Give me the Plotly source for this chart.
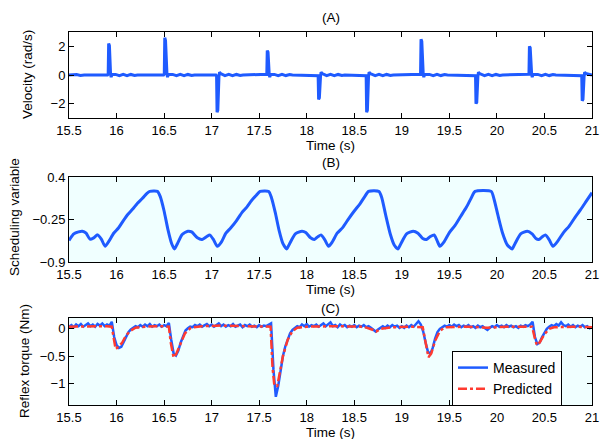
import plotly.graph_objects as go

# ---------------- data ----------------
x_ticks = [15.5, 16, 16.5, 17, 17.5, 18, 18.5, 19, 19.5, 20, 20.5, 21]
x_tick_labels = ["15.5", "16", "16.5", "17", "17.5", "18", "18.5", "19", "19.5", "20", "20.5", "21"]

# (A) velocity
vel_t = [15.50, 15.58, 15.62, 15.66, 15.905, 15.912, 15.917, 15.925, 15.937, 15.943, 15.952, 15.99, 16.03, 16.07, 16.11, 16.15, 16.19, 16.22,
         16.495, 16.502, 16.507, 16.515, 16.530, 16.536, 16.545, 16.59, 16.63, 16.67, 16.71, 16.75, 16.79, 16.82,
         17.045, 17.052, 17.057, 17.065, 17.077, 17.083, 17.095, 17.14, 17.18, 17.22, 17.26, 17.30, 17.33,
         17.573, 17.580, 17.585, 17.593, 17.605, 17.611, 17.620, 17.66, 17.70, 17.74, 17.78, 17.82, 17.85,
         18.113, 18.120, 18.125, 18.133, 18.145, 18.151, 18.163, 18.21, 18.25, 18.29, 18.33, 18.37, 18.40,
         18.618, 18.625, 18.630, 18.638, 18.650, 18.656, 18.668, 18.72, 18.76, 18.80, 18.84, 18.88, 18.91,
         19.190, 19.197, 19.202, 19.210, 19.225, 19.231, 19.240, 19.29, 19.33, 19.37, 19.41, 19.45, 19.48,
         19.768, 19.775, 19.780, 19.788, 19.800, 19.806, 19.818, 19.87, 19.91, 19.95, 19.99, 20.03, 20.06,
         20.330, 20.337, 20.342, 20.350, 20.365, 20.371, 20.380, 20.43, 20.47, 20.51, 20.55, 20.59, 20.62,
         20.885, 20.892, 20.897, 20.905, 20.917, 20.923, 20.935, 20.97, 21.00]
vel_v = [0.0, 0.03, -0.03, 0.0, 0.0, 0.05, 2.2, 2.05, 0.1, -0.15, 0.04, 0.04, -0.04, 0.04, -0.04, 0.04, -0.03, 0.0,
         0.0, 0.05, 2.6, 2.4, 0.1, -0.15, 0.04, 0.04, -0.04, 0.04, -0.04, 0.04, -0.03, 0.0,
         0.0, -0.05, -2.6, -2.45, -0.1, 0.2, 0.1, -0.04, 0.04, -0.04, 0.04, -0.03, 0.0,
         0.0, 0.05, 1.7, 1.6, 0.1, -0.15, 0.04, 0.04, -0.04, 0.04, -0.04, 0.03, 0.0,
         0.0, -0.05, -1.7, -1.6, -0.1, 0.2, 0.1, -0.04, 0.04, -0.04, 0.04, -0.03, 0.0,
         0.0, -0.05, -2.6, -2.45, -0.1, 0.2, 0.1, -0.04, 0.04, -0.04, 0.04, -0.03, 0.0,
         0.0, 0.05, 2.5, 2.35, 0.1, -0.15, 0.04, 0.04, -0.04, 0.04, -0.04, 0.03, 0.0,
         0.0, -0.05, -2.0, -1.9, -0.1, 0.2, 0.1, -0.04, 0.04, -0.04, 0.04, -0.03, 0.0,
         0.0, 0.05, 2.0, 1.9, 0.1, -0.15, 0.04, 0.04, -0.04, 0.04, -0.04, 0.03, 0.0,
         0.0, -0.05, -1.8, -1.7, -0.1, 0.2, 0.1, 0.04, 0.0]

# (B) scheduling variable
sched_t = [15.50, 15.55, 15.60, 15.64, 15.68, 15.72, 15.76, 15.80, 15.84, 15.88, 15.92, 15.97, 16.02, 16.07, 16.12, 16.17, 16.22,
           16.27, 16.32, 16.35, 16.43, 16.46, 16.50, 16.54, 16.58, 16.61, 16.64, 16.69, 16.75, 16.79, 16.85, 16.90, 16.95,
           16.98, 17.02, 17.06, 17.10, 17.15, 17.20, 17.26, 17.32, 17.37, 17.42, 17.47, 17.51, 17.60, 17.63, 17.67, 17.71,
           17.75, 17.79, 17.82, 17.88, 17.95, 17.99, 18.04, 18.08, 18.12, 18.15, 18.19, 18.23, 18.27, 18.32, 18.38, 18.44,
           18.50, 18.56, 18.61, 18.65, 18.76, 18.79, 18.83, 18.88, 18.92, 18.96, 18.99, 19.05, 19.12, 19.17, 19.22, 19.26,
           19.30, 19.34, 19.37, 19.40, 19.44, 19.50, 19.56, 19.62, 19.68, 19.73, 19.77, 19.94, 19.97, 20.01, 20.06, 20.11,
           20.16, 20.19, 20.25, 20.32, 20.37, 20.41, 20.44, 20.48, 20.51, 20.55, 20.59, 20.64, 20.70, 20.76, 20.82, 20.88,
           20.94, 21.00]
sched_v = [-0.57, -0.47, -0.44, -0.43, -0.46, -0.55, -0.53, -0.485, -0.55, -0.66, -0.58, -0.46, -0.38, -0.27, -0.17, -0.09, 0.00,
           0.07, 0.15, 0.18, 0.18, 0.10, -0.12, -0.40, -0.62, -0.70, -0.62, -0.48, -0.43, -0.44, -0.53, -0.555, -0.51,
           -0.485, -0.56, -0.66, -0.60, -0.46, -0.38, -0.27, -0.14, -0.06, 0.04, 0.12, 0.18, 0.18, 0.08, -0.15, -0.42,
           -0.62, -0.70, -0.62, -0.47, -0.43, -0.45, -0.53, -0.555, -0.51, -0.485, -0.56, -0.66, -0.59, -0.46, -0.37, -0.24,
           -0.12, -0.01, 0.10, 0.18, 0.18, 0.08, -0.18, -0.48, -0.64, -0.70, -0.62, -0.47, -0.43, -0.46, -0.54, -0.555,
           -0.51, -0.485, -0.57, -0.66, -0.60, -0.45, -0.34, -0.20, -0.06, 0.08, 0.18, 0.18, 0.06, -0.18, -0.46, -0.64,
           -0.70, -0.62, -0.47, -0.43, -0.47, -0.54, -0.555, -0.51, -0.485, -0.56, -0.66, -0.58, -0.45, -0.35, -0.22, -0.10,
           0.03, 0.16]

# (C) reflex torque, measured (sampled every 0.025 s from 15.5 s)
meas_t0 = 15.5
meas_dt = 0.025
meas_v = [0.04, 0.07, 0.03, 0.08, 0.05, 0.09, 0.04, 0.07, 0.10, 0.05, 0.08, 0.04, 0.09, 0.06, 0.10, 0.05, 0.08, 0.06, 0.13, -0.15,
          -0.30, -0.35, -0.33, -0.24, -0.14, -0.06, -0.01, 0.02, 0.05, 0.03, 0.07, 0.04, 0.08, 0.05, 0.09, 0.04, 0.07, 0.05, 0.08, 0.04,
          0.07, 0.05, 0.11, -0.20, -0.45, -0.49, -0.40, -0.25, -0.12, -0.03, 0.01, 0.04, 0.03, 0.07, 0.05, 0.08, 0.04, 0.07, 0.09, 0.05,
          0.08, 0.04, 0.07, 0.10, 0.05, 0.08, 0.04, 0.07, 0.05, 0.09, 0.04, 0.06, 0.08, 0.03, 0.07, 0.05, 0.08, 0.04, 0.06, 0.03,
          0.07, 0.04, 0.06, 0.05, 0.08, 0.10, -0.75, -1.25, -1.05, -0.75, -0.50, -0.32, -0.18, -0.08, -0.02, 0.02, 0.05, 0.03, 0.08, 0.05,
          0.09, 0.04, 0.07, 0.05, 0.08, 0.04, 0.07, 0.10, 0.05, 0.08, 0.12, 0.05, 0.07, 0.03, 0.08, 0.05, 0.07, 0.03, 0.06, 0.04,
          0.07, 0.03, 0.06, 0.04, 0.07, 0.03, 0.05, 0.02, -0.02, -0.05, -0.01, 0.02, 0.05, 0.02, 0.06, 0.03, 0.07, 0.04, 0.06, 0.02,
          0.05, 0.02, 0.06, 0.03, 0.07, 0.04, 0.10, 0.14, 0.08, -0.05, -0.25, -0.42, -0.46, -0.35, -0.18, -0.06, 0.00, 0.03, 0.06, 0.04,
          0.07, 0.04, 0.08, 0.05, 0.07, 0.03, 0.06, 0.04, 0.07, 0.03, 0.05, 0.02, 0.06, 0.03, 0.05, 0.01, -0.02, 0.02, 0.05, 0.03,
          0.07, 0.04, 0.06, 0.03, 0.07, 0.04, 0.06, 0.03, 0.05, 0.02, 0.06, 0.04, 0.07, 0.05, 0.08, 0.13, -0.15, -0.28, -0.25, -0.15,
          -0.06, 0.00, 0.04, 0.07, 0.05, 0.09, 0.06, 0.12, 0.07, 0.05, 0.08, 0.04, 0.07, 0.03, 0.06, 0.04, 0.07, 0.03, 0.05, 0.01,
          0.03]
meas_t = [meas_t0 + i * meas_dt for i in range(len(meas_v))]

# (C) reflex torque, predicted
pred_t = [15.5, 15.7, 15.9, 15.95, 15.97, 15.99, 16.02, 16.06, 16.1, 16.15, 16.2, 16.3, 16.5, 16.55, 16.57, 16.6, 16.63,
          16.67, 16.72, 16.78, 16.9, 17.1, 17.3, 17.5, 17.62, 17.64, 17.66, 17.69, 17.72, 17.75, 17.8, 17.85, 17.9, 18.0,
          18.3, 18.6, 18.7, 18.73, 18.78, 18.9, 19.1, 19.22, 19.25, 19.28, 19.31, 19.35, 19.4, 19.45, 19.7, 19.9, 20.1,
          20.37, 20.4, 20.42, 20.45, 20.5, 20.55, 20.6, 20.8, 21.0]
pred_v = [0.04, 0.05, 0.05, 0.04, -0.2, -0.37, -0.33, -0.25, -0.12, -0.03, 0.02, 0.04, 0.05, 0.04, -0.25, -0.53, -0.45,
          -0.28, -0.08, 0.02, 0.05, 0.06, 0.05, 0.04, 0.04, -0.7, -1.05, -1.05, -0.8, -0.5, -0.2, -0.04, 0.02, 0.04,
          0.05, 0.04, -0.02, -0.05, 0.0, 0.03, 0.04, 0.03, -0.25, -0.52, -0.45, -0.22, -0.04, 0.03, 0.04, 0.02, 0.04,
          0.04, -0.18, -0.3, -0.25, -0.1, 0.0, 0.03, 0.04, 0.03]

# ---------------- figure ----------------
BLUE = "#1f5bff"
RED = "#ff3b30"
FONT = "Liberation Sans"
W, H = 600, 439

fig = go.Figure()
fig.add_trace(go.Scatter(x=vel_t, y=vel_v, mode="lines", line=dict(color=BLUE, width=3),
                         xaxis="x", yaxis="y", showlegend=False))
fig.add_trace(go.Scatter(x=sched_t, y=sched_v, mode="lines", line=dict(color=BLUE, width=3, shape="spline", smoothing=0.6),
                         xaxis="x2", yaxis="y2", showlegend=False))
fig.add_trace(go.Scatter(x=meas_t, y=meas_v, mode="lines", line=dict(color=BLUE, width=2.5),
                         xaxis="x3", yaxis="y3", name="Measured"))
fig.add_trace(go.Scatter(x=pred_t, y=pred_v, mode="lines", line=dict(color=RED, width=2.5, dash="dashdot"),
                         xaxis="x3", yaxis="y3", name="Predicted"))

xd = [69 / W, 592 / W]
def ydom(top, bottom):
    return [1 - bottom / H, 1 - top / H]

common = dict(showgrid=False, zeroline=False, showline=True, linecolor="black", linewidth=1,
              mirror="ticks", ticks="inside", ticklen=5, tickcolor="black", automargin=False,
              tickfont=dict(family=FONT, size=13, color="black"))

xax = dict(common, range=[15.5, 21], tickvals=x_ticks, ticktext=x_tick_labels, domain=xd)

fig.update_layout(
    width=W, height=H, margin=dict(l=0, r=0, t=0, b=0, autoexpand=False),
    paper_bgcolor="white", plot_bgcolor="white",
    font=dict(family=FONT, size=13, color="black"),
    xaxis=dict(xax, anchor="y"),
    xaxis2=dict(xax, anchor="y2"),
    xaxis3=dict(xax, anchor="y3"),
    yaxis=dict(common, range=[-3, 3], tickvals=[-2, 0, 2], domain=ydom(32, 118), anchor="x"),
    yaxis2=dict(common, range=[-0.9, 0.4], tickvals=[-0.9, -0.25, 0.4], ticktext=["\u22120.9", "\u22120.25", "0.4"],
                domain=ydom(177, 262), anchor="x2"),
    yaxis3=dict(common, range=[-1.4, 0.2], tickvals=[-1, -0.5, 0], ticktext=["\u22121", "\u22120.5", "0"],
                domain=ydom(318, 405), anchor="x3"),
    legend=dict(x=452 / W, y=1 - 351 / H, xanchor="left", yanchor="top",
                bgcolor="white", bordercolor="black", borderwidth=1,
                font=dict(family=FONT, size=14, color="black"), tracegroupgap=0),
)

for ax in ["x2", "x3"]:
    fig.add_shape(type="rect", xref=f"{ax} domain", yref=f"y{ax[1]} domain", x0=0, x1=1, y0=0, y1=1,
                  fillcolor="#f0ffff", line=dict(width=0), layer="below")

cx = (69 + 592) / 2 / W
def ann(text, x, y, angle=0):
    fig.add_annotation(text=text, x=x, y=y, xref="paper", yref="paper", showarrow=False,
                       textangle=angle, font=dict(family=FONT, size=13.5, color="black"),
                       xanchor="center", yanchor="middle")

for lbl, y in [("(A)", 18), ("(B)", 163), ("(C)", 308)]:
    ann(lbl, cx, 1 - y / H)
for y in [145, 289, 432]:
    ann("Time (s)", cx, 1 - y / H)
ann("Velocity (rad/s)", 28 / W, 1 - 75 / H, -90)
ann("Scheduling variable", 14 / W, 1 - 217 / H, -90)
ann("Reflex torque (Nm)", 24 / W, 1 - 361 / H, -90)

fig.write_html("out.html", config={"displayModeBar": False},
               post_script="document.body.style.margin='0px';document.body.style.overflow='hidden';")
